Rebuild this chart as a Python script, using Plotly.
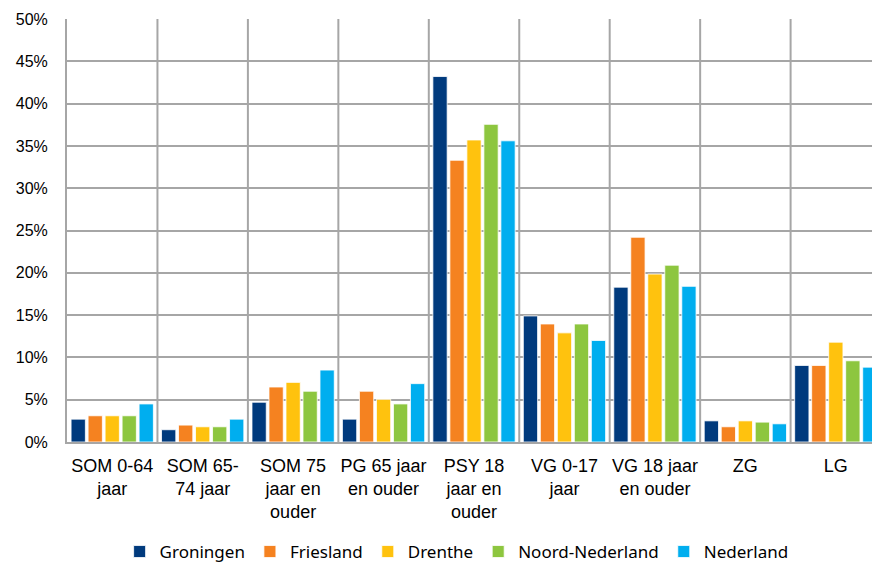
import plotly.graph_objects as go

categories = ["SOM 0-64<br>jaar", "SOM 65-<br>74 jaar", "SOM 75<br>jaar en<br>ouder",
              "PG 65 jaar<br>en ouder", "PSY 18<br>jaar en<br>ouder", "VG 0-17<br>jaar",
              "VG 18 jaar<br>en ouder", "ZG", "LG"]

groningen = [2.7, 1.45, 4.7, 2.7, 43.2, 14.9, 18.3, 2.5, 9.05]
friesland = [3.1, 2.0, 6.5, 6.0, 33.3, 13.95, 24.2, 1.8, 9.05]
drenthe = [3.1, 1.8, 7.05, 5.05, 35.7, 12.9, 19.85, 2.5, 11.8]
noord_nederland = [3.1, 1.8, 6.0, 4.5, 37.55, 13.95, 20.9, 2.35, 9.6]
nederland = [4.5, 2.7, 8.5, 6.9, 35.6, 12.0, 18.4, 2.15, 8.85]

series = [
    ("Groningen", groningen, "#003A7D"),
    ("Friesland", friesland, "#F58220"),
    ("Drenthe", drenthe, "#FFC20E"),
    ("Noord-Nederland", noord_nederland, "#8DC63F"),
    ("Nederland", nederland, "#00AEEF"),
]

y_ticks = [0, 5, 10, 15, 20, 25, 30, 35, 40, 45, 50]
y_tick_labels = [f"{v}%" for v in y_ticks]

fig = go.Figure()
for name, vals, color in series:
    fig.add_trace(go.Bar(x=categories, y=vals, name=name,
                         marker=dict(color=color, line=dict(color="white", width=0.8))))

grid = "#A6A6A6"
for i in range(len(categories) - 1):
    fig.add_shape(type="line", xref="x", yref="y", x0=i + 0.5, x1=i + 0.5, y0=0, y1=50,
                  line=dict(color=grid, width=2), layer="below")

fig.update_layout(
    width=872, height=563,
    margin=dict(l=67, r=0, t=19, b=121, autoexpand=False),
    paper_bgcolor="white", plot_bgcolor="white",
    barmode="group", bargap=0.06, bargroupgap=0.16,
    font=dict(family="Liberation Sans, Arial, sans-serif", color="#000000"),
    legend=dict(orientation="h", x=0.484, xanchor="center", y=-0.26, yanchor="middle",
                font=dict(family="Noto Sans, Open Sans, sans-serif", size=17),
                itemwidth=30, traceorder="normal"),
    xaxis=dict(range=[-0.5, 8.4], showgrid=False, showline=True, linecolor=grid, linewidth=2,
               ticks="outside", ticklen=6, tickcolor="rgba(0,0,0,0)", tickangle=0, automargin=False,
               tickfont=dict(family="Liberation Sans, Arial, sans-serif", size=18)),
    yaxis=dict(range=[0, 50], tickmode="array", tickvals=y_ticks, ticktext=y_tick_labels,
               showgrid=True, gridcolor=grid, automargin=False,
               gridwidth=2, showline=True, linecolor=grid, linewidth=2, zeroline=False,
               ticks="outside", ticklen=14, tickcolor="rgba(0,0,0,0)",
               tickfont=dict(family="Liberation Sans, Arial, sans-serif", size=16)),
)

fig.write_html("out.html", config={"displayModeBar": False},
               post_script="document.body.style.margin='0px';document.body.style.overflow='hidden';")
